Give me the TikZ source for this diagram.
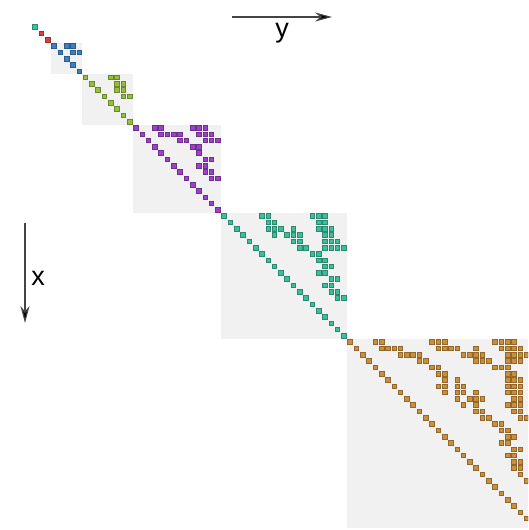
\documentclass[tikz,border=0pt]{standalone}
\usepackage{fontspec}
\setmainfont{Liberation Sans}
\usetikzlibrary{arrows.meta}
\definecolor{cteal}{HTML}{3DBE9A}
\definecolor{cred}{HTML}{D1453B}
\definecolor{cblue}{HTML}{3D7EC4}
\definecolor{cgreen}{HTML}{97BD3D}
\definecolor{cpurple}{HTML}{9A42C8}
\definecolor{corange}{HTML}{C98F3C}
\definecolor{blockgray}{HTML}{F1F1F1}
\definecolor{axisgray}{HTML}{444444}
\newcommand\mcell[3]{\path[cellsty,fill=#3,draw=#3!72!black] ({35+6.3*(#2)-2.3},{27+6.3*(#1)-2.3}) rectangle +(4.6,4.6);}
\newcommand\mblock[5]{% offset, size, colour, list, gray?
  \ifnum#5=1 \fill[blockbg] ({35+6.3*(#1-0.5)},{27+6.3*(#1-0.5)}) rectangle +({6.3*#2},{6.3*#2});\fi
  \foreach \k in {1,...,#2}{\mcell{#1+\k-1}{#1+\k-1}{#3}}
  \foreach \r/\c in {#4}{\mcell{#1+\r}{#1+\c}{#3}}
}
\begin{document}
\begin{tikzpicture}[x=1pt,y=-1pt,
  cellsty/.style={line width=0.5pt},
  blockbg/.style={fill=blockgray},
  axisline/.style={draw=axisgray,line width=1.1pt,-{Stealth[length=17pt,width=9pt,fill=black]}},
  axislabel/.style={font=\fontsize{27}{27}\selectfont,text=black,inner sep=0pt,anchor=base}]
\useasboundingbox (0,0) rectangle (528,530);
\clip (0,0) rectangle (528,530);
% first cell and red block
\mcell{0}{0}{cteal}
\mcell{1}{1}{cred}
\mcell{2}{2}{cred}
% blue block
\mblock{3}{5}{cblue}{0/2,0/3,1/3,1/4}{1}
% green block
\mblock{8}{8}{cgreen}{0/4,0/5,1/5,1/6,2/5,2/6,3/6,3/7}{1}
% purple block
\mblock{16}{14}{cpurple}{0/3,0/4,0/9,0/10,0/11,
 1/4,1/5,1/6,1/7,1/10,1/11,1/12,
 2/7,2/8,2/11,2/12,2/13,
 3/9,3/10,4/10,5/11,5/12,6/10,6/11,7/11,7/12,8/12,8/13}{1}
% teal block
\mblock{30}{20}{cteal}{0/6,0/7,0/14,0/15,0/16,
 1/7,1/8,1/15,1/16,
 2/7,2/8,2/9,2/11,2/15,2/16,2/17,
 3/8,3/10,3/11,3/12,3/16,3/17,
 4/11,4/12,4/16,4/17,4/18,
 5/12,5/13,5/16,5/17,5/18,5/19,
 6/14,6/15,7/15,7/16,8/16,8/17,9/15,9/16,10/17,10/18,11/16,11/17,12/17,12/18,13/18,13/19}{1}
% orange block
\mblock{50}{30}{corange}{0/4,0/5,0/13,0/14,0/15,0/23,0/24,0/25,0/26,
 1/5,1/6,1/7,1/8,1/14,1/15,1/16,1/17,1/20,1/24,1/25,1/26,1/27,
 2/8,2/9,2/10,2/11,2/18,2/19,2/20,2/21,2/25,2/26,2/27,2/28,
 3/11,3/12,3/20,3/21,3/22,3/25,3/26,3/27,
 4/13,4/14,4/23,4/24,4/25,
 5/14,5/15,5/25,5/26,
 6/15,6/17,6/25,6/26,6/27,
 7/14,7/15,7/17,7/18,7/25,7/26,7/27,
 8/15,8/17,8/18,8/20,8/25,8/26,8/27,
 9/17,9/19,9/20,9/21,9/26,9/27,
 10/18,10/20,10/25,10/26,10/27,
 11/20,11/21,11/26,11/27,
 12/21,12/22,12/27,12/28,
 13/23,13/24,14/24,14/25,15/25,15/26,16/24,16/25,17/26,17/27,
 18/25,18/26,19/26,19/27,20/26,20/27,21/27,22/28}{1}
% axes
\coordinate (ystart) at (232,17);
\coordinate (yend) at (332,17);
\draw[axisline] (ystart) -- (yend);
\node[axislabel] (ylab) at (282,37) {y};
\coordinate (xstart) at (25,223);
\coordinate (xend) at (25,323);
\draw[axisline] (xstart) -- (xend);
\node[axislabel] (xlab) at (38,285) {x};
\end{tikzpicture}
\end{document}
